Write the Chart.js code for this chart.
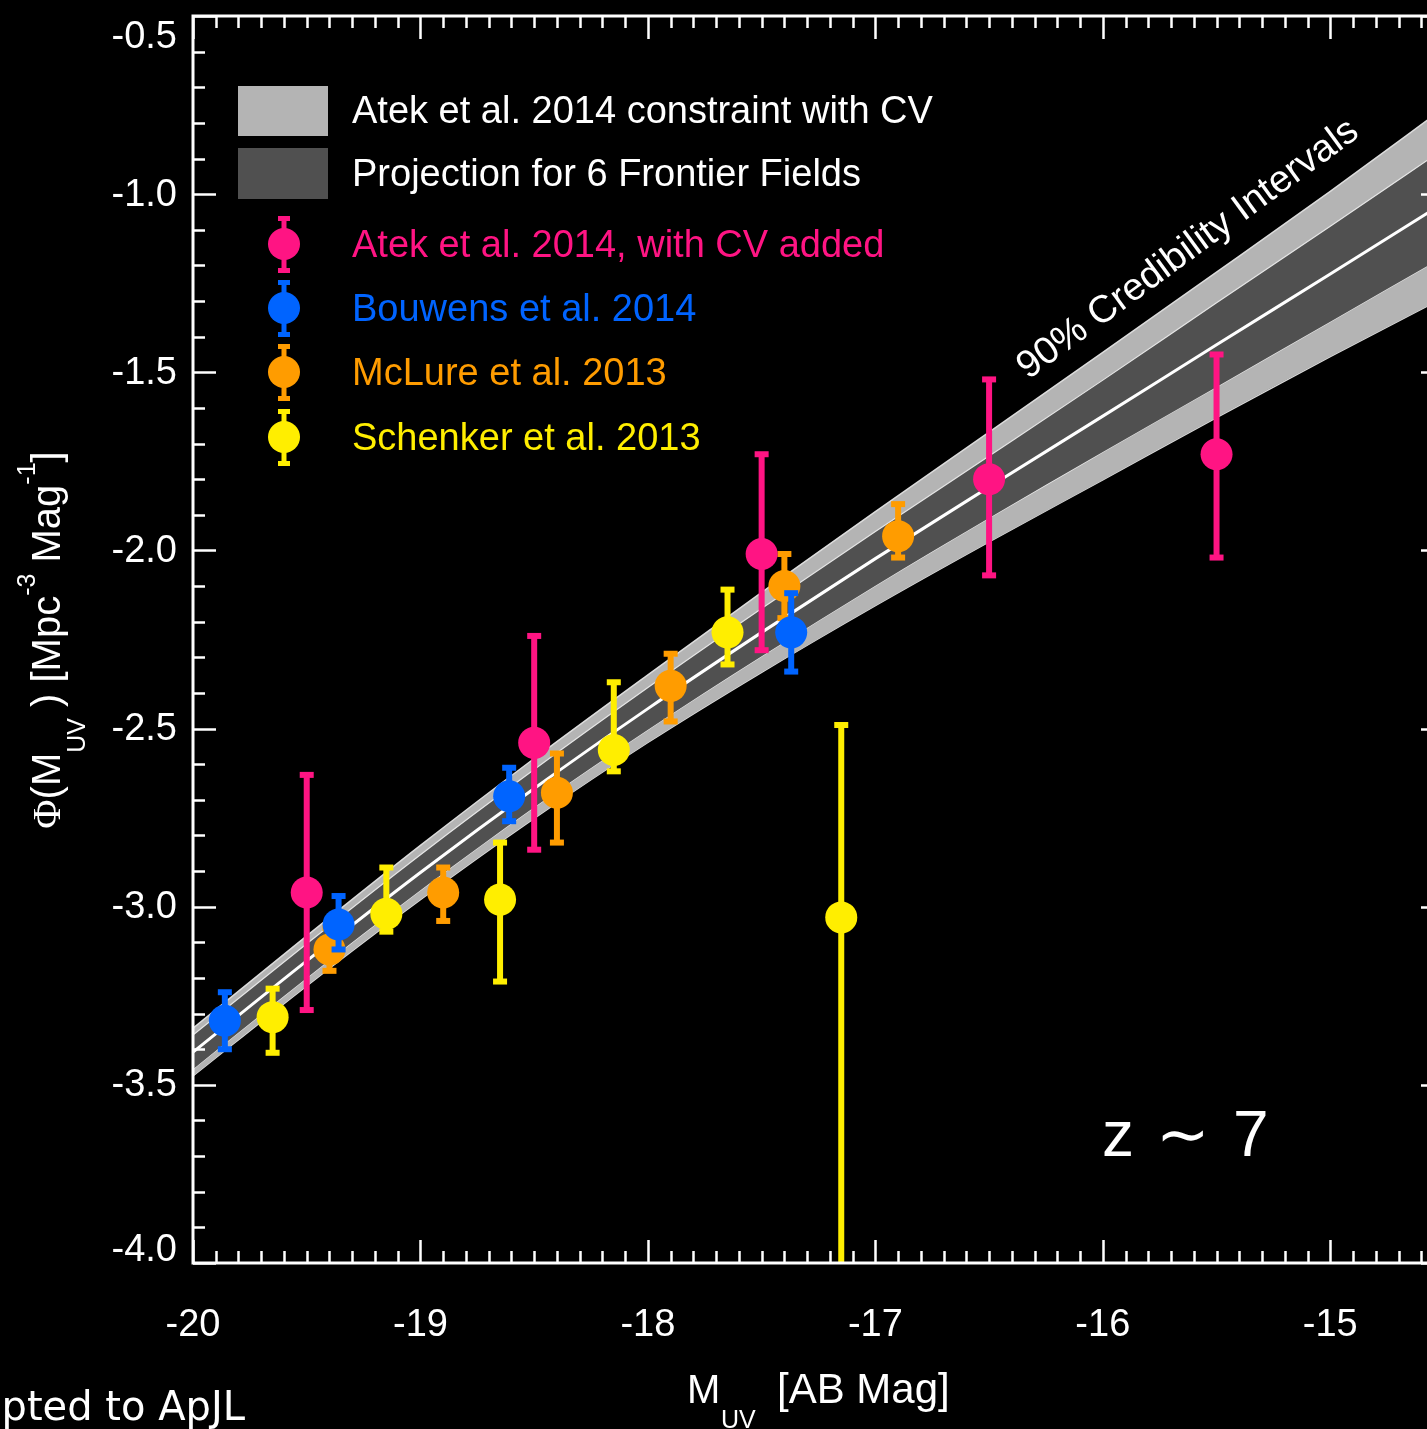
<!DOCTYPE html>
<html>
<head>
<meta charset="utf-8">
<script src="https://cdn.jsdelivr.net/npm/chart.js@4.4.0/dist/chart.umd.min.js"></script>
<style>
  html, body { margin: 0; padding: 0; background: #000; overflow: hidden; }
  #wrap { width: 1460px; height: 1429px; }
</style>
</head>
<body>
<div id="wrap"><canvas id="lf" width="1460" height="1429"></canvas></div>
<script>
// credibility band, every 0.5 mag
const mags = [-20, -19.5, -19, -18.5, -18, -17.5, -17, -16.5, -16, -15.5, -15, -14.5];
const bandMid     = [-3.408, -3.152, -2.904, -2.668, -2.444, -2.230, -2.023, -1.822, -1.623, -1.423, -1.224, -1.024];
const bandInnerHi = [-3.360, -3.104, -2.854, -2.615, -2.385, -2.163, -1.947, -1.735, -1.522, -1.305, -1.090, -0.873];
const bandInnerLo = [-3.456, -3.200, -2.954, -2.721, -2.503, -2.297, -2.099, -1.909, -1.724, -1.541, -1.358, -1.175];
const bandOuterHi = [-3.341, -3.082, -2.828, -2.584, -2.349, -2.118, -1.891, -1.668, -1.444, -1.219, -0.992, -0.758];
const bandOuterLo = [-3.475, -3.222, -2.980, -2.752, -2.539, -2.342, -2.155, -1.976, -1.802, -1.627, -1.456, -1.290];

// Atek et al. 2014, with CV added
const atekM    = [-19.5, -18.5, -17.5, -16.5, -15.5];
const atekPhi  = [-2.96, -2.54, -2.01, -1.80, -1.73];
const atekUp   = [-2.63, -2.24, -1.73, -1.52, -1.45];
const atekDown = [-3.29, -2.84, -2.28, -2.07, -2.02];

// Bouwens et al. 2014
const bouwM    = [-19.86, -19.36, -18.61, -17.37];
const bouwPhi  = [-3.32, -3.05, -2.69, -2.23];
const bouwUp   = [-3.24, -2.97, -2.61, -2.12];
const bouwDown = [-3.40, -3.12, -2.76, -2.34];

// McLure et al. 2013
const mclM    = [-19.40, -18.90, -18.40, -17.90, -17.40, -16.90];
const mclPhi  = [-3.12, -2.96, -2.68, -2.38, -2.10, -1.96];
const mclUp   = [-3.06, -2.89, -2.57, -2.29, -2.01, -1.87];
const mclDown = [-3.18, -3.04, -2.82, -2.48, -2.19, -2.02];

// Schenker et al. 2013
const schM    = [-19.65, -19.15, -18.65, -18.15, -17.65, -17.15];
const schPhi  = [-3.31, -3.02, -2.98, -2.56, -2.23, -3.03];
const schUp   = [-3.23, -2.89, -2.82, -2.37, -2.11, -2.49];
const schDown = [-3.41, -3.07, -3.21, -2.62, -2.32, -4.50];

const xTicks = [-20, -19, -18, -17, -16, -15];
const yTicks = [-4.0, -3.5, -3.0, -2.5, -2.0, -1.5, -1.0, -0.5];

const PINK = '#ff1483', BLUE = '#0064ff', ORANGE = '#ff9c00', YELLOW = '#ffee00';
const LIGHT = '#b4b4b4', DARK = '#505050';
const FONT = '"Liberation Sans", Arial, Helvetica, sans-serif';

function pts(xs, ys) {
    return xs.map((x, i) => ({ x: x, y: ys[i] }));
}

function bandLine(ys, color, width, fill, order) {
    return {
        type: 'line', data: pts(mags, ys), showLine: true,
        borderColor: color, borderWidth: width, pointRadius: 0,
        cubicInterpolationMode: 'monotone', fill: fill,
        backgroundColor: fill === false ? 'transparent' : (order === 10 ? LIGHT : DARK),
        order: order
    };
}

function series(xs, ys, up, down, color, order) {
    return {
        type: 'scatter', data: pts(xs, ys), errHi: up, errLo: down,
        backgroundColor: color, borderWidth: 0, pointRadius: 16, pointHoverRadius: 16,
        order: order
    };
}

// error bars drawn under each series' own points
const errorBars = {
    id: 'errorBars',
    beforeDatasetDraw(chart, args) {
        const ds = chart.data.datasets[args.index];
        if (!ds.errHi) return;
        const { ctx, chartArea: a, scales: { x, y } } = chart;
        ctx.save();
        ctx.beginPath();
        ctx.rect(a.left, a.top, a.right - a.left, a.bottom - a.top);
        ctx.clip();
        ctx.strokeStyle = ds.backgroundColor;
        ctx.fillStyle = ds.backgroundColor;
        ctx.lineWidth = 6;
        ds.data.forEach((p, i) => {
            const px = x.getPixelForValue(p.x);
            const top = y.getPixelForValue(ds.errHi[i]);
            const bot = y.getPixelForValue(ds.errLo[i]);
            ctx.beginPath();
            ctx.moveTo(px, top);
            ctx.lineTo(px, bot);
            ctx.stroke();
            ctx.fillRect(px - 7, top - 3, 14, 6);
            ctx.fillRect(px - 7, bot - 3, 14, 6);
        });
        ctx.restore();
    }
};

function richText(ctx, parts, x, y) {
    // parts: [text, fontSize, baselineShift, family]
    let cx = x;
    parts.forEach(p => {
        ctx.font = p[1] + 'px ' + (p[3] || FONT);
        ctx.fillText(p[0], cx, y + p[2]);
        cx += ctx.measureText(p[0]).width;
    });
    return cx - x;
}

function measureRich(ctx, parts) {
    let w = 0;
    parts.forEach(p => {
        ctx.font = p[1] + 'px ' + (p[3] || FONT);
        w += ctx.measureText(p[0]).width;
    });
    return w;
}

const frame = {
    id: 'frame',
    beforeDraw(chart) {
        const ctx = chart.ctx;
        ctx.save();
        ctx.fillStyle = '#000';
        ctx.fillRect(0, 0, chart.width, chart.height);
        ctx.restore();
    },
    afterDraw(chart) {
        const { ctx, chartArea: a, scales: { x, y } } = chart;
        ctx.save();
        ctx.strokeStyle = '#fff';
        ctx.fillStyle = '#fff';

        // ticks, every 0.1 with longer ones on the labelled values
        ctx.lineWidth = 2.5;
        ctx.beginPath();
        for (let i = 0; i <= 55; i++) {
            const v = -20 + i * 0.1;
            const px = Math.round(x.getPixelForValue(v)) + 0.5;
            const len = (i % 10 === 0) ? 23 : 12;
            ctx.moveTo(px, a.bottom); ctx.lineTo(px, a.bottom - len);
            ctx.moveTo(px, a.top); ctx.lineTo(px, a.top + len);
        }
        for (let i = 0; i <= 35; i++) {
            const v = -4 + i * 0.1;
            const py = Math.round(y.getPixelForValue(v)) + 0.5;
            const len = (i % 5 === 0) ? 23 : 12;
            ctx.moveTo(a.left, py); ctx.lineTo(a.left + len, py);
            ctx.moveTo(a.right, py); ctx.lineTo(a.right - len, py);
        }
        ctx.stroke();

        ctx.lineWidth = 3;
        ctx.strokeRect(a.left, a.top, a.right - a.left, a.bottom - a.top);

        // tick labels
        ctx.font = '38px ' + FONT;
        ctx.textAlign = 'center';
        ctx.textBaseline = 'middle';
        xTicks.forEach(v => ctx.fillText(String(v), x.getPixelForValue(v), 1326));
        ctx.textAlign = 'right';
        yTicks.forEach(v => {
            let py = y.getPixelForValue(v);
            if (v === -0.5) py += 21;
            if (v === -4.0) py -= 13;
            ctx.fillText(v.toFixed(1), 177, py + 1);
        });

        // axis titles
        ctx.textAlign = 'left';
        ctx.textBaseline = 'alphabetic';
        richText(ctx, [['M', 40, 0]], 687, 1403);
        richText(ctx, [['UV', 25, 0]], 721, 1428);
        richText(ctx, [['[AB Mag]', 42, 0]], 777, 1403);

        const yParts = [['\u03A6', 40, 0, '"Liberation Serif", serif'], ['(M', 40, 0], ['UV', 25, 25],
                        [' ) [Mpc', 40, 0], ['-3', 25, -25], [' Mag', 40, 0], ['-1', 25, -25], [']', 40, 0]];
        ctx.save();
        ctx.translate(60, 640);
        ctx.rotate(-Math.PI / 2);
        richText(ctx, yParts, -measureRich(ctx, yParts) / 2, 0);
        ctx.restore();

        ctx.font = '40px "DejaVu Sans", sans-serif';
        ctx.textAlign = 'right';
        ctx.fillText('Accepted to ApJL', 245, 1420);

        // redshift label
        ctx.textAlign = 'left';
        ctx.font = '64px ' + FONT;
        ctx.fillText('z', 1102, 1156);
        ctx.fillText('\u223C', 1156, 1156);
        ctx.fillText('7', 1233, 1156);

        // band annotation
        ctx.save();
        ctx.translate(1028, 380);
        ctx.rotate(-36.3 * Math.PI / 180);
        ctx.font = '38.5px ' + FONT;
        ctx.fillText('90% Credibility Intervals', 0, 0);
        ctx.restore();

        // legend
        ctx.fillStyle = LIGHT;
        ctx.fillRect(238, 86, 90, 50);
        ctx.fillStyle = DARK;
        ctx.fillRect(238, 148, 90, 51);
        ctx.font = '38px ' + FONT;
        ctx.textBaseline = 'middle';
        ctx.fillStyle = '#fff';
        ctx.fillText('Atek et al. 2014 constraint with CV', 352, 113);
        ctx.fillText('Projection for 6 Frontier Fields', 352, 176);
        const rows = [['Atek et al. 2014, with CV added', PINK, 244],
                      ['Bouwens et al. 2014', BLUE, 308],
                      ['McLure et al. 2013', ORANGE, 372],
                      ['Schenker et al. 2013', YELLOW, 437]];
        rows.forEach(r => {
            ctx.fillStyle = r[1];
            ctx.strokeStyle = r[1];
            ctx.lineWidth = 5;
            ctx.beginPath();
            ctx.moveTo(284, r[2] - 26); ctx.lineTo(284, r[2] + 27);
            ctx.stroke();
            ctx.fillRect(278, r[2] - 28, 12, 5);
            ctx.fillRect(278, r[2] + 24, 12, 5);
            ctx.beginPath();
            ctx.arc(284, r[2], 16, 0, Math.PI * 2);
            ctx.fill();
            ctx.fillText(r[0], 352, r[2] + 3);
        });
        ctx.restore();
    }
};

new Chart(document.getElementById('lf'), {
    type: 'scatter',
    data: {
        datasets: [
            bandLine(bandOuterHi, '#dcdcdc', 1.5, 1, 10),
            bandLine(bandOuterLo, '#dcdcdc', 1.5, false, 10),
            bandLine(bandInnerHi, '#e6e6e6', 1.2, 3, 9),
            bandLine(bandInnerLo, '#e6e6e6', 1.2, false, 9),
            bandLine(bandMid, '#ffffff', 3, false, 8),
            series(mclM, mclPhi, mclUp, mclDown, ORANGE, 4),
            series(schM, schPhi, schUp, schDown, YELLOW, 3),
            series(atekM, atekPhi, atekUp, atekDown, PINK, 2),
            series(bouwM, bouwPhi, bouwUp, bouwDown, BLUE, 1)
        ]
    },
    options: {
        responsive: false,
        animation: false,
        layout: { padding: { left: 193, top: 14, right: 14, bottom: 166 } },
        scales: {
            x: { type: 'linear', min: -20, max: -14.5, display: false },
            y: { type: 'linear', min: -4, max: -0.5, display: false }
        },
        plugins: { legend: { display: false }, tooltip: { enabled: false } },
        events: []
    },
    plugins: [errorBars, frame]
});
</script>
</body>
</html>
